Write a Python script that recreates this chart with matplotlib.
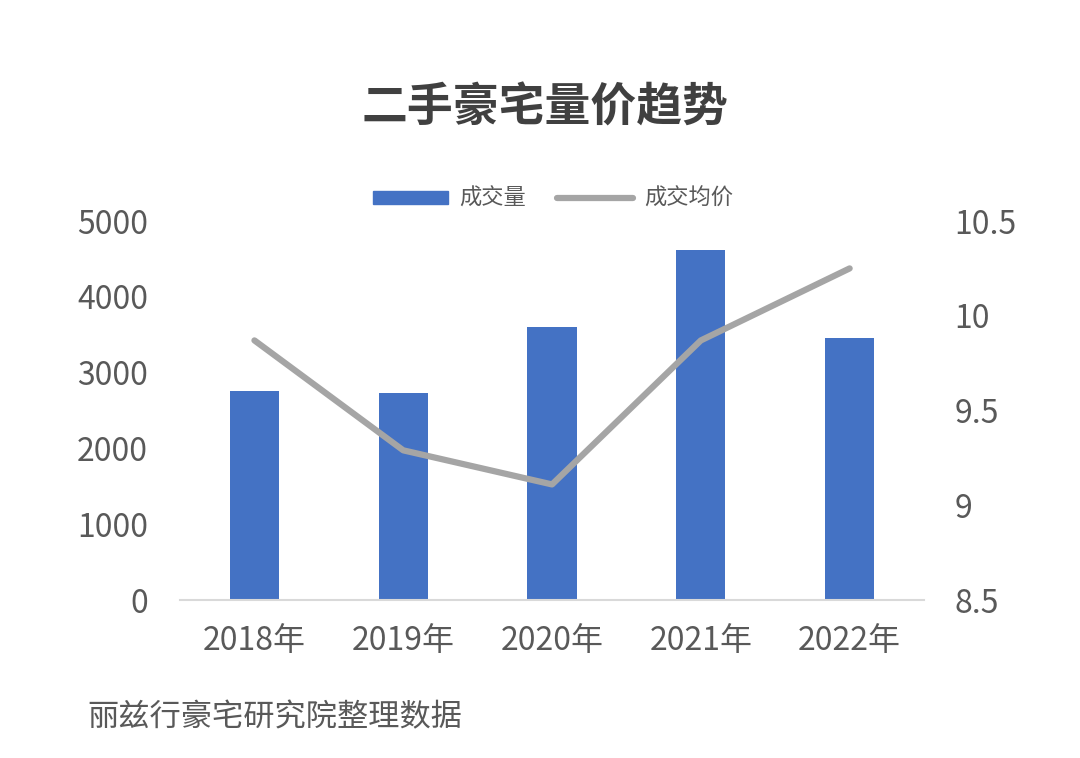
import matplotlib
matplotlib.use("Agg")
import matplotlib.pyplot as plt
from matplotlib.lines import Line2D
from matplotlib.patches import Patch

plt.rcParams['font.family'] = ['Noto Sans CJK SC', 'DejaVu Sans']

categories = ["2018年", "2019年", "2020年", "2021年", "2022年"]
volume = [2757, 2731, 3602, 4617, 3456]
avg_price = [9.87, 9.29, 9.11, 9.87, 10.25]
left_ticks = [0, 1000, 2000, 3000, 4000, 5000]
right_ticks = [8.5, 9, 9.5, 10, 10.5]
right_tick_labels = ["8.5", "9", "9.5", "10", "10.5"]

bar_color = "#4472C4"
line_color = "#A5A5A5"
text_color = "#595959"

fig = plt.figure(figsize=(10.8, 7.58), dpi=100)
ax = fig.add_axes([0.1667, 0.2084, 0.6889, 0.5])
x = list(range(len(categories)))
ax.bar(x, volume, width=0.33, color=bar_color, zorder=2)
ax.set_xlim(-0.5, len(categories) - 0.5)
ax.set_ylim(0, 5000)
ax.set_yticks(left_ticks)
ax.set_yticklabels([str(t) for t in left_ticks])
ax.set_xticks(x)
ax.set_xticklabels(categories)
for s in ["top", "right", "left"]:
    ax.spines[s].set_visible(False)
ax.spines["bottom"].set_color("#D9D9D9")
ax.spines["bottom"].set_linewidth(1.5)
ax.tick_params(axis="both", length=0, labelsize=23, labelcolor=text_color)
ax.tick_params(axis="y", pad=23)
ax.tick_params(axis="x", pad=18)

ax2 = ax.twinx()
ax2.plot(x, avg_price, color=line_color, linewidth=4.5, solid_capstyle="round",
         solid_joinstyle="round", zorder=3)
ax2.set_ylim(8.5, 10.5)
ax2.set_yticks(right_ticks)
ax2.set_yticklabels(right_tick_labels)
for s in ["top", "right", "left", "bottom"]:
    ax2.spines[s].set_visible(False)
ax2.tick_params(axis="y", length=0, labelsize=23, labelcolor=text_color, pad=22)

fig.text(0.505, 0.857, "二手豪宅量价趋势", ha="center", va="center",
         fontsize=33, fontweight="bold", color="#404040")

handles = [Patch(facecolor=bar_color, edgecolor=bar_color),
           Line2D([0], [0], color=line_color, linewidth=4.5, solid_capstyle="round")]
fig.legend(handles, ["成交量", "成交均价"], loc="center", bbox_to_anchor=(0.512, 0.738),
           ncol=2, frameon=False, fontsize=16, labelcolor=text_color,
           handlelength=3.4, handleheight=0.55, columnspacing=1.4, handletextpad=0.5)

fig.text(0.081, 0.054, "丽兹行豪宅研究院整理数据", ha="left", va="center",
         fontsize=22.5, color=text_color)

fig.savefig("out.png", dpi=100, facecolor="white")
